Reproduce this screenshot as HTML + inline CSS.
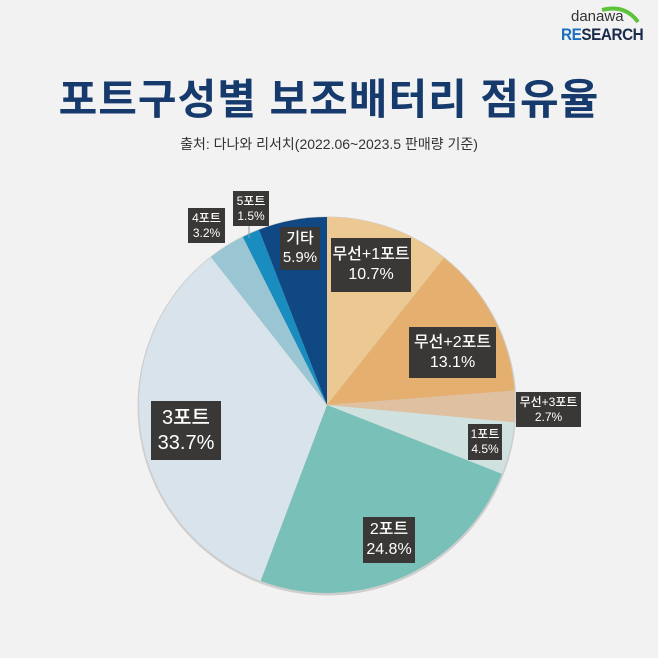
<!DOCTYPE html>
<html><head><meta charset="utf-8"><style>
body{margin:0;width:658px;height:658px;background:#f2f2f2;overflow:hidden;font-family:"Liberation Sans","Noto Sans CJK KR",sans-serif;position:relative}
.t{position:absolute;left:0;width:658px;text-align:center}
.b{position:absolute;background:#3a3836;color:#fff;text-align:center;line-height:1.25;display:flex;flex-direction:column;justify-content:center;font-weight:500}
</style></head><body>
<div style="position:absolute;left:571px;top:8px;font-size:15px;color:#333">danawa</div>
<svg style="position:absolute;left:600px;top:2px" width="50" height="24"><path d="M2 8 Q25 2 38 20" stroke="#5cc33a" stroke-width="4" fill="none"/></svg>
<div style="position:absolute;left:561px;top:25px;font-size:17px;font-weight:bold;letter-spacing:-0.5px;transform:scaleX(0.9);transform-origin:left"><span style="color:#1a6fc0">RE</span><span style="color:#1a2a4a">SEARCH</span></div>
<div class="t" style="top:66px;font-size:42px;font-weight:bold;color:#163a6c;letter-spacing:1px">포트구성별 보조배터리 점유율</div>
<div class="t" style="top:134px;font-size:14px;color:#333">출처: 다나와 리서치(2022.06~2023.5 판매량 기준)</div>
<svg id="pie" style="position:absolute;left:0;top:0" width="658" height="658"></svg>
<div class="b" style="left:331px;top:238px;width:80px;height:54px;font-size:16px">무선+1포트<br>10.7%</div>
<div class="b" style="left:409px;top:327px;width:87px;height:51px;font-size:16px">무선+2포트<br>13.1%</div>
<div class="b" style="left:516px;top:392px;width:65px;height:35px;font-size:12px">무선+3포트<br>2.7%</div>
<div class="b" style="left:468px;top:424px;width:34px;height:36px;font-size:12px">1포트<br>4.5%</div>
<div class="b" style="left:363px;top:517px;width:52px;height:46px;font-size:16px">2포트<br>24.8%</div>
<div class="b" style="left:151px;top:401px;width:70px;height:59px;font-size:20px">3포트<br>33.7%</div>
<div class="b" style="left:188px;top:208px;width:37px;height:35px;font-size:12px">4포트<br>3.2%</div>
<div class="b" style="left:233px;top:191px;width:36px;height:35px;font-size:12px">5포트<br>1.5%</div>
<div class="b" style="left:280px;top:227px;width:40px;height:43px;font-size:15px">기타<br>5.9%</div>
<script>
var d=[[10.7,"#ecc892"],[13.1,"#e5b06f"],[2.7,"#dfc0a0"],[4.5,"#cfe2df"],[24.8,"#79c0b8"],[33.7,"#d9e3ec"],[3.2,"#9ac6d3"],[1.5,"#1a8dc0"],[5.9,"#0f4882"]];
var cx=327,cy=405,r=188,tot=100.1,a=0,s='<circle cx="'+cx+'" cy="'+(cy+1)+'" r="'+(r+1.5)+'" fill="#aaa" opacity="0.5"/>';
d.forEach(function(e){var a0=a/tot*2*Math.PI;a+=e[0];var a1=a/tot*2*Math.PI;
var x0=cx+r*Math.sin(a0),y0=cy-r*Math.cos(a0),x1=cx+r*Math.sin(a1),y1=cy-r*Math.cos(a1);
s+='<path d="M'+cx+' '+cy+'L'+x0+' '+y0+'A'+r+' '+r+' 0 '+((a1-a0)>Math.PI?1:0)+' 1 '+x1+' '+y1+'Z" fill="'+e[1]+'"/>';});
s+='<line x1="249" y1="226" x2="249" y2="238" stroke="#999"/>';
document.getElementById('pie').innerHTML=s;
</script>
</body></html>
